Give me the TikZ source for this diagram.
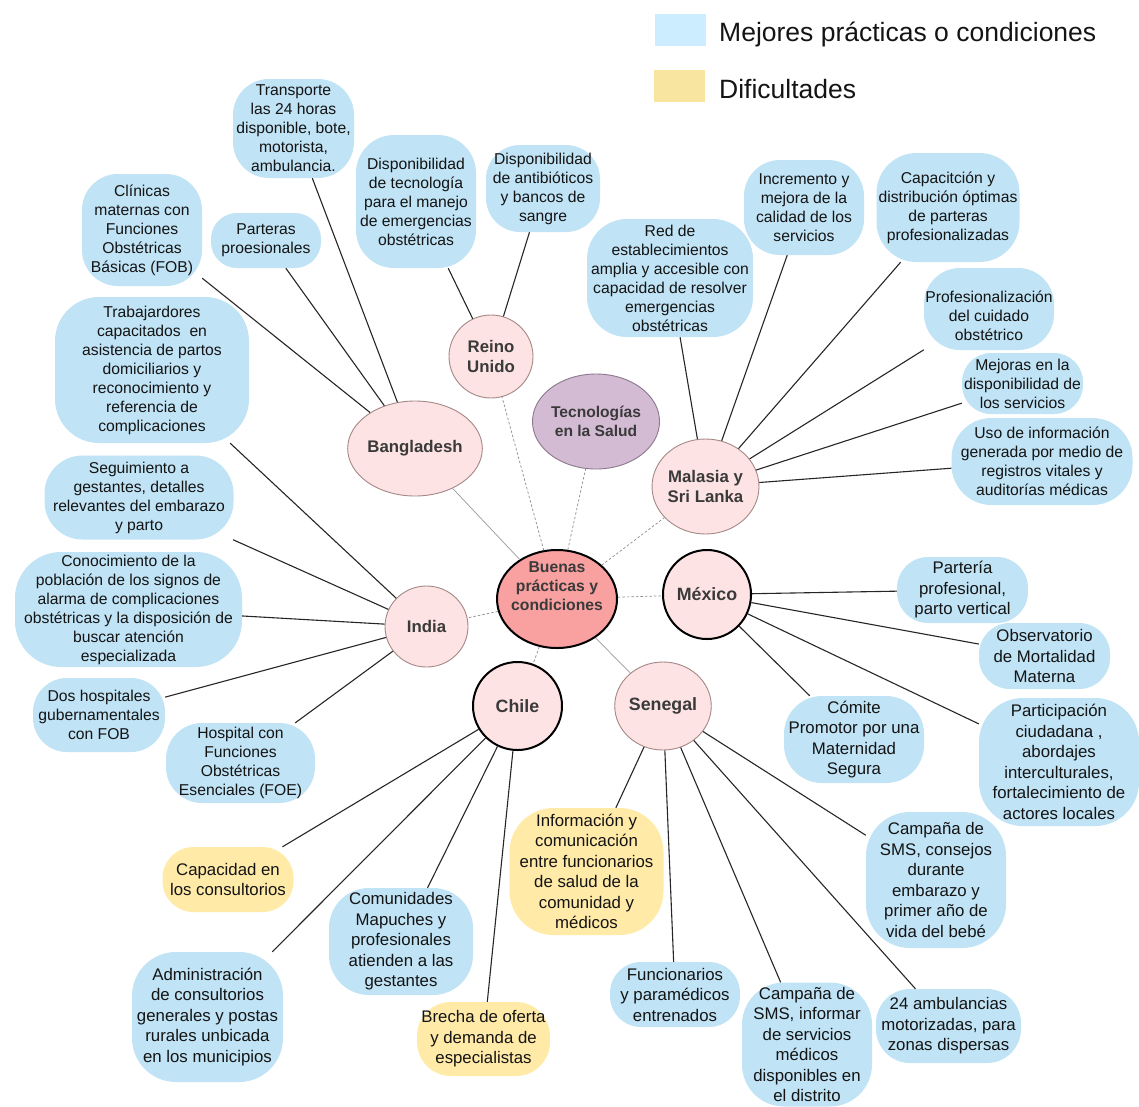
\documentclass[tikz,border=0pt]{standalone}
\usepackage{fontspec}
\setmainfont{Liberation Sans}
\usetikzlibrary{shapes.geometric}

\definecolor{goodfill}{RGB}{192,227,245}
\definecolor{badfill}{RGB}{255,234,168}
\definecolor{keygood}{RGB}{204,236,255}
\definecolor{keybad}{RGB}{248,229,160}
\definecolor{hubfill}{RGB}{249,160,160}
\definecolor{landfill}{RGB}{253,227,227}
\definecolor{landedge}{RGB}{165,135,135}
\definecolor{techfill}{RGB}{211,187,211}
\definecolor{techedge}{RGB}{140,120,140}
\definecolor{labelgray}{RGB}{58,58,58}

\begin{document}
\begin{tikzpicture}[x=1pt,y=-1pt,
  land/.style={ellipse, fill=landfill, draw=landedge, line width=0.9pt, inner sep=0pt,
    align=center, text=labelgray, font=\bfseries\fontsize{16.8}{20.5}\selectfont},
  strong/.style={draw=black, line width=2pt},
  bigname/.style={font=\bfseries\fontsize{17.8}{21}\selectfont},
  hub/.style={ellipse, fill=hubfill, draw=black, line width=2pt, inner sep=0pt,
    minimum width=120pt, minimum height=98pt},
  hubtext/.style={align=center, inner sep=0pt, text=labelgray,
    font=\bfseries\fontsize{15.7}{19}\selectfont},
  tech/.style={ellipse, fill=techfill, draw=techedge, line width=0.9pt, inner sep=0pt,
    minimum width=106pt, minimum height=95pt, align=center, text=labelgray,
    font=\bfseries\fontsize{15.6}{19}\selectfont},
  leaf/.style n args={3}{rectangle, fill=goodfill, minimum width=#1, minimum height=#2,
    rounded corners=#3, inner sep=0pt, align=center, text=black!92,
    font=\fontsize{15.7}{19}\selectfont},
  leaftext/.style={align=center, inner sep=0pt, text=black!92,
    font=\fontsize{15.7}{19}\selectfont},
  wide/.style={font=\fontsize{16.8}{20.5}\selectfont},
  hard/.style={fill=badfill},
  keybox/.style={rectangle, inner sep=0pt, minimum width=51pt, minimum height=32pt},
  keytext/.style={anchor=west, inner sep=0pt, text=black!92, font=\fontsize{26.5}{30}\selectfont},
  link/.style={draw=black!85, line width=1.1pt},
  spoke/.style={draw=black!45, line width=0.7pt, dash pattern=on 2.5pt off 2pt},
  plainspoke/.style={draw=black!40, line width=0.7pt},
]
\useasboundingbox (0,0) rectangle (1139,1106);

% legend
\node[keybox, fill=keygood] (keyA) at (680.5,30) {};
\node[keytext] (keyAtext) at (719,34.5) {Mejores prácticas o condiciones};
\node[keybox, fill=keybad] (keyB) at (679,86) {};
\node[keytext] (keyBtext) at (719,89) {Dificultades};

% central topic and country nodes
\node[hub, label={[hubtext, yshift=13pt]center:Buenas\\prácticas y\\condiciones}] (hub) at (557,599) {};
\node[land, minimum width=84pt, minimum height=83pt] (uk) at (491,356.5) {Reino\\Unido};
\node[tech] (tech) at (596,421.5) {Tecnologías\\en la Salud};
\node[land, minimum width=106pt, minimum height=95pt] (bgd) at (415,448.5) {Bangladesh};
\node[land, minimum width=95pt, minimum height=95pt] (mys) at (705.5,486.5) {Malasia y\\Sri Lanka};
\node[land, strong, bigname, minimum width=88pt, minimum height=89pt] (mex) at (707,594.5) {México};
\node[land, minimum width=83pt, minimum height=81pt] (ind) at (426.5,626.5) {India};
\node[land, strong, bigname, minimum width=89pt, minimum height=88pt] (chl) at (517.5,706) {Chile};
\node[land, bigname, minimum width=88pt, minimum height=88pt] (sen) at (663,706) {Senegal};

% Bangladesh
\node[leaf={121pt}{99pt}{36pt}] (b1) at (293.5,128.5) {Transporte\\las 24 horas\\disponible, bote,\\motorista,\\ambulancia.};
\node[leaf={120pt}{112pt}{36pt}] (b2) at (142,230) {Clínicas\\maternas con\\Funciones\\Obstétricas\\Básicas (FOB)};
\node[leaf={110pt}{55pt}{26pt}] (b3) at (266,240.5) {Parteras\\proesionales};
\node[leaf={194pt}{146pt}{44pt}] (b4) at (152,370) {Trabajardores\\capacitados~ en\\asistencia de partos\\domiciliarios y\\reconocimiento y\\referencia de\\complicaciones};

% Reino Unido
\node[leaf={120pt}{133pt}{38pt}] (r1) at (416,201.5) {Disponibilidad\\de tecnología\\para el manejo\\de emergencias\\obstétricas};
\node[leaf={114pt}{87pt}{34pt}] (r2) at (543,188.5) {Disponibilidad\\de antibióticos\\y bancos de\\sangre};

% Malasia y Sri Lanka
\node[leaf={166pt}{118pt}{40pt}] (m1) at (670,278) {Red de\\establecimientos\\amplia y accesible con\\capacidad de resolver\\emergencias\\obstétricas};
\node[leaf={120pt}{95pt}{36pt}] (m2) at (804,207.5) {Incremento y\\mejora de la\\calidad de los\\servicios};
\node[leaf={143pt}{109pt}{40pt}] (m3) at (948,207.5) {Capacitción y\\distribución óptimas\\de parteras\\profesionalizadas};
\node[leaf={130pt}{82pt}{36pt}, label={[leaftext, yshift=-7pt]center:Profesionalización\\del cuidado\\obstétrico}] (m4) at (989,309) {};
\node[leaf={121pt}{61pt}{29pt}] (m5) at (1022.5,383.5) {Mejoras en la\\disponibilidad de\\los servicios};
\node[leaf={181pt}{87pt}{40pt}] (m6) at (1042,461.5) {Uso de información\\generada por medio de\\registros vitales y\\auditorías médicas};

% México
\node[leaf={131pt}{66pt}{31pt}, wide] (x1) at (962.5,590) {Partería\\profesional,\\parto vertical};
\node[leaf={131pt}{66pt}{31pt}, wide] (x2) at (1044.5,656) {Observatorio\\de Mortalidad\\Materna};
\node[leaf={160pt}{128pt}{44pt}, wide] (x3) at (1059,762) {Participación\\ciudadana ,\\abordajes\\interculturales,\\fortalecimiento de\\actores locales};
\node[leaf={140pt}{87pt}{38pt}, wide] (x4) at (854,739.5) {Cómite\\Promotor por una\\Maternidad\\Segura};

% India
\node[leaf={189pt}{84pt}{38pt}] (i1) at (139,497.5) {Seguimiento a\\gestantes, detalles\\relevantes del embarazo\\y parto};
\node[leaf={227pt}{115pt}{46pt}] (i2) at (128.5,609.5) {Conocimiento de la\\población de los signos de\\alarma de complicaciones\\obstétricas y la disposición de\\buscar atención\\especializada};
\node[leaf={132pt}{74pt}{34pt}] (i3) at (99,715) {Dos hospitales\\gubernamentales\\con FOB};
\node[leaf={149pt}{80pt}{36pt}] (i4) at (240.5,763) {Hospital con\\Funciones\\Obstétricas\\Esenciales (FOE)};

% Chile
\node[leaf={131pt}{65pt}{31pt}, wide, hard] (c1) at (228,879.5) {Capacidad en\\los consultorios};
\node[leaf={151pt}{130pt}{44pt}, wide] (c2) at (207.5,1017) {Administración\\de consultorios\\generales y postas\\rurales unbicada\\en los municipios};
\node[leaf={144pt}{107pt}{40pt}, wide] (c3) at (401,941.5) {Comunidades\\Mapuches y\\profesionales\\atienden a las\\gestantes};
\node[leaf={133pt}{74pt}{34pt}, wide, hard] (c4) at (483.5,1039) {Brecha de oferta\\y demanda de\\especialistas};

% Senegal
\node[leaf={154pt}{127pt}{44pt}, wide, hard] (s1) at (586.5,871.5) {Información y\\comunicación\\entre funcionarios\\de salud de la\\comunidad y\\médicos};
\node[leaf={130pt}{65pt}{31pt}, wide] (s2) at (675,994.5) {Funcionarios\\y paramédicos\\entrenados};
\node[leaf={130pt}{124pt}{42pt}, wide] (s3) at (807,1044.5) {Campaña de\\SMS, informar\\de servicios\\médicos\\disponibles en\\el distrito};
\node[leaf={145pt}{74pt}{34pt}, wide] (s4) at (948.5,1026) {24 ambulancias\\motorizadas, para\\zonas dispersas};
\node[leaf={140pt}{136pt}{44pt}, wide] (s5) at (936,880) {Campaña de\\SMS, consejos\\durante\\embarazo y\\primer año de\\vida del bebé};

% spokes from the central topic
\draw[spoke] (hub) -- (uk);
\draw[spoke] (hub) -- (tech);
\draw[spoke] (hub) -- (mys);
\draw[spoke] (hub) -- (mex);
\draw[spoke] (hub) -- (ind);
\draw[spoke] (hub) -- (chl);
\draw[plainspoke] (hub) -- (bgd);
\draw[plainspoke] (hub) -- (sen);

% country connectors
\foreach \n in {b1,b2,b3} \draw[link] (bgd) -- (\n);
\foreach \n in {r1,r2} \draw[link] (uk) -- (\n);
\foreach \n in {m1,m2,m3,m4,m5,m6} \draw[link] (mys) -- (\n);
\foreach \n in {x1,x2,x3,x4} \draw[link] (mex) -- (\n);
\foreach \n in {b4,i1,i2,i3,i4} \draw[link] (ind) -- (\n);
\foreach \n in {c1,c2,c3,c4} \draw[link] (chl) -- (\n);
\foreach \n in {s1,s2,s3,s4,s5} \draw[link] (sen) -- (\n);
\end{tikzpicture}
\end{document}
